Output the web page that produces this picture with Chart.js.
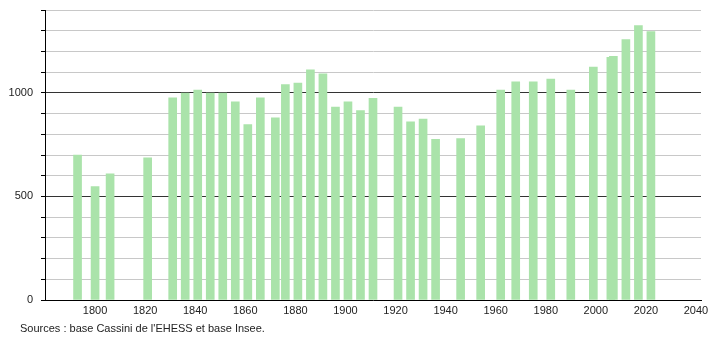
<!DOCTYPE html>
<html><head><meta charset="utf-8">
<script src="https://cdn.jsdelivr.net/npm/chart.js@4/dist/chart.umd.min.js"></script>
<style>html,body{margin:0;padding:0;background:#fff}#wrap{width:710px;height:340px}</style>
</head><body><div id="wrap"><canvas id="c" width="710" height="340"></canvas></div>
<script>
const years = [1793,1800,1806,1821,1831,1836,1841,1846,1851,1856,1861,1866,1872,1876,1881,1886,1891,1896,1901,1906,1911,1921,1926,1931,1936,1946,1954,1962,1968,1975,1982,1990,1999,2006,2007,2012,2017,2022];
const population = [700,547,609,686,976,999,1014,999,999,957,847,976,879,1040,1047,1111,1092,931,957,915,973,931,860,873,776,779,841,1014,1053,1053,1066,1014,1125,1172,1176,1257,1325,1296];
const xTickLabels = [1800,1820,1840,1860,1880,1900,1920,1940,1960,1980,2000,2020,2040];
const yLabelValues = [0,500,1000];
const sourceText = "Sources : base Cassini de l'EHESS et base Insee.";

const FONT = "'Liberation Sans', Arial, sans-serif";

const sourcePlugin = {
  id: 'source',
  afterDraw(chart) {
    const ctx = chart.ctx;
    ctx.save();
    ctx.font = "11px " + FONT;
    ctx.fillStyle = '#222';
    ctx.textBaseline = 'middle';
    ctx.textAlign = 'left';
    ctx.fillText(sourceText, 20, 329);
    ctx.restore();
  }
};

new Chart(document.getElementById('c'), {
  type: 'bar',
  data: {
    datasets: [{
      data: years.map((y, i) => ({x: y, y: population[i]})),
      backgroundColor: 'rgb(170,227,170)',
      borderWidth: 0,
      barThickness: 8
    }]
  },
  options: {
    responsive: false,
    animation: false,
    layout: {padding: {left: 0, right: 9, top: 10, bottom: 0}},
    plugins: {legend: {display: false}, tooltip: {enabled: false}},
    scales: {
      x: {
        type: 'linear',
        offset: false,
        min: 1780,
        max: 2042,
        afterBuildTicks(scale) {
          scale.ticks = xTickLabels.map(v => ({value: v}));
        },
        afterFit(scale) { scale.height = 40; scale.paddingLeft = 0; scale.paddingRight = 0; },
        grid: {drawOnChartArea: false, drawTicks: false, offset: false},
        border: {display: true, color: '#000', width: 1},
        ticks: {
          font: {family: FONT, size: 11},
          color: '#222',
          padding: 4,
          maxRotation: 0,
          autoSkip: false,
          callback: v => String(v)
        }
      },
      y: {
        min: 0,
        max: 1400,
        afterFit(scale) { scale.width = 45; scale.paddingTop = 0; scale.paddingBottom = 0; },
        border: {display: true, color: '#000', width: 1},
        grid: {
          color: ctx => (ctx.tick && (ctx.tick.value === 500 || ctx.tick.value === 1000)) ? '#333' : '#c8c8c8',
          tickColor: '#000',
          tickLength: 4,
          lineWidth: 1
        },
        ticks: {
          stepSize: 100,
          font: {family: FONT, size: 11},
          color: '#222',
          padding: 8,
          autoSkip: false,
          callback: v => yLabelValues.includes(v) ? String(v) : ''
        }
      }
    }
  },
  plugins: [sourcePlugin]
});
</script>
</body></html>
